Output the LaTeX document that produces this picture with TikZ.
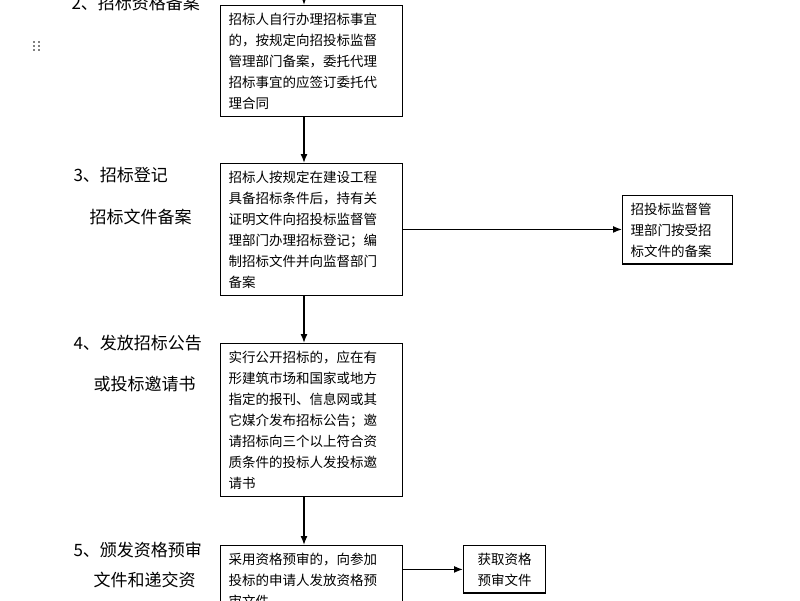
\documentclass[tikz,border=0pt]{standalone}
\usepackage{fontspec}
\setmainfont{Noto Sans CJK SC}
\usetikzlibrary{arrows.meta}
\tikzset{
  box/.style={draw,line width=1.4pt,anchor=north west,align=left,inner xsep=8pt,inner ysep=7pt,
    font=\fontsize{13.5pt}{21pt}\selectfont},
  phase/.style={anchor=west,font=\fontsize{17pt}{20pt}\selectfont},
  flow/.style={-{Latex[length=9pt,width=7pt]},line width=1.4pt}
}
\begin{document}
\begin{tikzpicture}[x=1pt,y=-1pt]
\useasboundingbox (0,0) rectangle (800,600);
\fill[white] (0,0) rectangle (800,600);
% labels on the left
\node[phase] (l2) at (68,3) {2、招标资格备案};
\node[phase] (l3a) at (70,175) {3、招标登记};
\node[phase] (l3b) at (86,217) {招标文件备案};
\node[phase] (l4a) at (70,343) {4、发放招标公告};
\node[phase] (l4b) at (90,384) {或投标邀请书};
\node[phase] (l5a) at (70,550) {5、颁发资格预审};
\node[phase] (l5b) at (90,580) {文件和递交资};
% handle mark
\foreach \i in {0,1,2} {
  \fill (34,42+\i*4) circle (0.9pt);
  \fill (39,42+\i*4) circle (0.9pt);
}
% boxes
\node[box,text width=166pt] (b1) at (220,5) {招标人自行办理招标事宜\\的，按规定向招投标监督\\管理部门备案，委托代理\\招标事宜的应签订委托代\\理合同};
\node[box,text width=166pt] (b2) at (220,163) {招标人按规定在建设工程\\具备招标条件后，持有关\\证明文件向招投标监督管\\理部门办理招标登记；编\\制招标文件并向监督部门\\备案};
\node[box,text width=94pt] (r2) at (622,195) {招投标监督管\\理部门按受招\\标文件的备案};
\node[box,text width=166pt] (b3) at (220,343) {实行公开招标的，应在有\\形建筑市场和国家或地方\\指定的报刊、信息网或其\\它媒介发布招标公告；邀\\请招标向三个以上符合资\\质条件的投标人发投标邀\\请书};
\node[box,text width=166pt] (b4) at (220,545) {采用资格预审的，向参加\\投标的申请人发放资格预\\审文件};
\node[box,text width=66pt,align=center] (r4) at (463,545) {获取资格\\预审文件};
% arrows
\coordinate (top) at (304,-10);
\draw[flow] (top) -- (b1.north -| top);
\draw[flow] (b1.south -| top) -- (b2.north -| top);
\draw[flow] (b2.east) -- (r2.west |- b2.east);
\draw[flow] (b2.south -| top) -- (b3.north -| top);
\draw[flow] (b3.south -| top) -- (b4.north -| top);
\draw[flow] (b4.east |- r4.center) -- (r4.west);
\end{tikzpicture}
\end{document}
